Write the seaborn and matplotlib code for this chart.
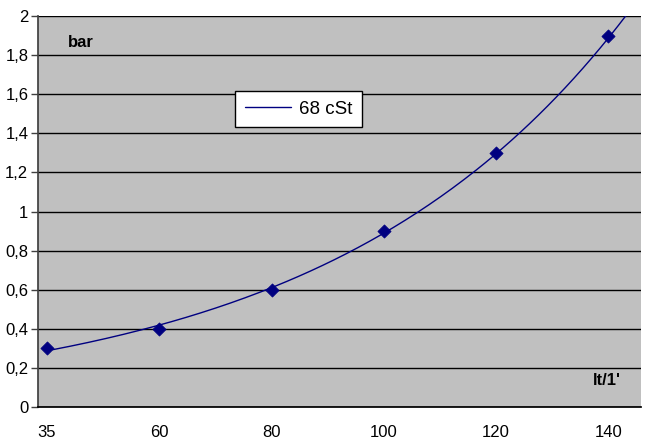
import matplotlib
matplotlib.use("Agg")
import numpy as np
import pandas as pd
import seaborn as sns
import matplotlib.pyplot as plt

# flow categories (lt/1') and measured pressure (bar)
flow_labels = ['35', '60', '80', '100', '120', '140']
pressure = [0.3, 0.4, 0.6, 0.9, 1.3, 1.9]
y_ticks = [0, 0.2, 0.4, 0.6, 0.8, 1.0, 1.2, 1.4, 1.6, 1.8, 2.0]
y_tick_labels = ['0', '0,2', '0,4', '0,6', '0,8', '1', '1,2', '1,4', '1,6', '1,8', '2']

df = pd.DataFrame({'pos': np.arange(len(flow_labels)), 'bar': pressure})

# exponential trendline (least squares on log values, like the spreadsheet one)
b, a = np.polyfit(df['pos'], np.log(df['bar']), 1)
trend = pd.DataFrame({'pos': np.linspace(0.05, 5.3, 200)})
trend['bar'] = np.exp(a + b * trend['pos'])

sns.set_theme(style='white')
plt.rcParams['font.family'] = ['Liberation Sans', 'DejaVu Sans']
plt.rcParams['text.color'] = 'black'

fig = plt.figure(figsize=(6.45, 4.41), dpi=100)
ax = fig.add_axes([38 / 645, 34 / 441, 603 / 645, 391 / 441])
ax.set_facecolor('#c0c0c0')

sns.lineplot(data=trend, x='pos', y='bar', color='#000080', lw=1.0, ax=ax,
             label='68 cSt')
sns.scatterplot(data=df, x='pos', y='bar', marker='D', s=45, color='#000080',
                edgecolor='#000080', ax=ax, zorder=5, legend=False)

ax.set_xlim(-0.08, 5.29)
ax.set_ylim(0, 2)
ax.set_yticks(y_ticks)
ax.set_yticklabels(y_tick_labels)
ax.set_xticks(df['pos'])
ax.set_xticklabels(flow_labels)
ax.grid(axis='y', color='black', lw=1)
ax.set_axisbelow(True)
ax.tick_params(axis='y', left=True, length=5, width=1, color='#404040',
               labelsize=12, pad=2, labelcolor='black')
ax.tick_params(axis='x', bottom=False, length=0, labelsize=12, pad=13,
               labelcolor='black')
ax.set_xlabel('')
ax.set_ylabel('')

for side in ['top', 'right']:
    ax.spines[side].set_visible(False)
ax.spines['left'].set_color('#404040')
ax.spines['bottom'].set_color('black')

ax.text(0.0498, 0.931, 'bar', transform=ax.transAxes, fontsize=12,
        fontweight='bold', ha='left', va='center', color='black')
ax.text(0.92, 0.069, "lt/1'", transform=ax.transAxes, fontsize=12,
        fontweight='bold', ha='left', va='center', color='black')

leg = ax.legend(loc='upper left', bbox_to_anchor=(0.327, 0.808), fontsize=13.5,
                frameon=True, fancybox=False, shadow=False, handlelength=2.5,
                borderpad=0.5, handletextpad=0.4, borderaxespad=0)
leg.get_frame().set_edgecolor('black')
leg.get_frame().set_facecolor('white')
leg.get_frame().set_alpha(1)
leg.get_frame().set_linewidth(1)

fig.savefig('out.png', dpi=100)
